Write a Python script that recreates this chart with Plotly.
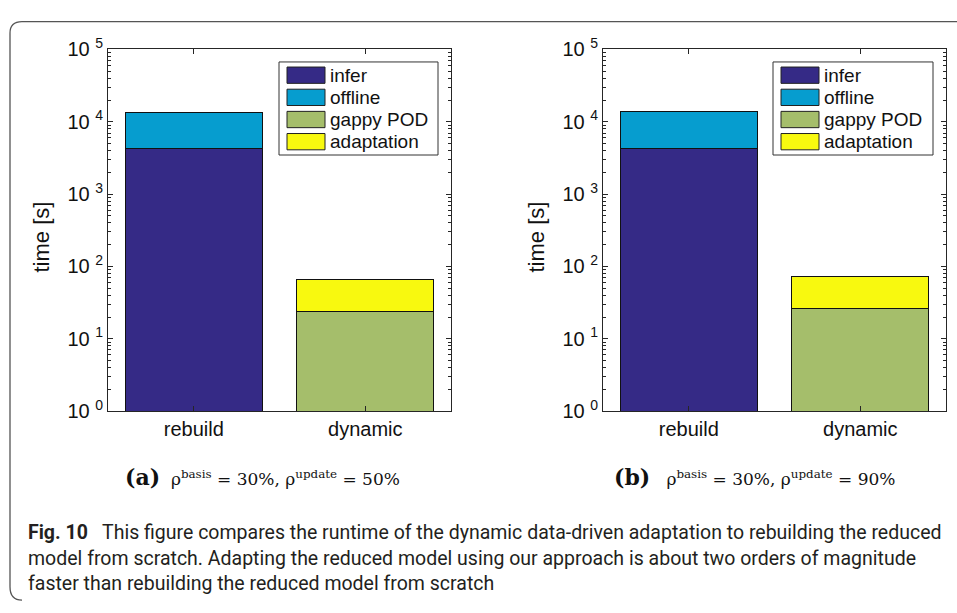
import plotly.graph_objects as go

W, H = 957, 613

categories = ["rebuild", "dynamic"]
series_names = ["infer", "offline", "gappy POD", "adaptation"]
series_colors = ["#352a86", "#069dcf", "#a5be6b", "#f8f90f"]

# panel (a): rho_update = 50%
a_infer = [4300, 0]
a_offline = [9000, 0]
a_gappy = [0, 23.5]
a_adapt = [0, 42.0]

# panel (b): rho_update = 90%
b_infer = [4300, 0]
b_offline = [9400, 0]
b_gappy = [0, 26.0]
b_adapt = [0, 47.0]

y_tickvals = [1, 10, 100, 1000, 10000, 100000]
y_ticktext = ["10\u00a0<sup>0</sup>", "10\u00a0<sup>1</sup>", "10\u00a0<sup>2</sup>",
              "10\u00a0<sup>3</sup>", "10\u00a0<sup>4</sup>", "10\u00a0<sup>5</sup>"]
minor_vals = [m * 10 ** k for k in range(0, 5) for m in range(2, 10)]

caption_a = ("<span style='font-size:22px'><b>(a)</b></span>\u00a0 ρ<sup>basis</sup> = 30%, "
             "ρ<sup>update</sup> = 50%")
caption_b = ("<span style='font-size:22px'><b>(b)</b></span>\u00a0\u00a0 ρ<sup>basis</sup> = 30%, "
             "ρ<sup>update</sup> = 90%")
fig_caption = [
    "<b>Fig. 10</b>\u00a0\u00a0 This figure compares the runtime of the dynamic data-driven adaptation to rebuilding the reduced",
    "model from scratch. Adapting the reduced model using our approach is about two orders of magnitude",
    "faster than rebuilding the reduced model from scratch",
]
y_title = "time [s]"


def px(x):
    return x / W


def py(y):
    return 1 - y / H


AX = "#262626"
FONT = "Liberation Sans"

fig = go.Figure()

panels = [
    ("x", "y", [a_infer, a_offline, a_gappy, a_adapt]),
    ("x2", "y2", [b_infer, b_offline, b_gappy, b_adapt]),
]
for xa, ya, data in panels:
    for name, color, vals in zip(series_names, series_colors, data):
        fig.add_trace(go.Bar(
            x=categories, y=vals, name=name, xaxis=xa, yaxis=ya,
            marker=dict(color=color, line=dict(color="#111111", width=1)),
            width=0.8, showlegend=False,
        ))

plot_areas = [(108, 451), (603, 946)]
top, bottom = 37, 414

common_x = dict(type="category", range=[-0.5, 1.5], showline=True, linecolor=AX, linewidth=1,
                mirror="ticks", ticks="inside", ticklen=5, tickcolor=AX,
                tickfont=dict(family=FONT, size=20, color="#111111"), showgrid=False,
                zeroline=False, fixedrange=True)
common_y = dict(type="log", range=[0, 5], showline=True, linecolor=AX, linewidth=1,
                mirror="ticks", ticks="inside", ticklen=5, tickcolor=AX,
                tickvals=y_tickvals, ticktext=y_ticktext,
                tickfont=dict(family=FONT, size=20, color="#111111"),
                minor=dict(ticks="inside", ticklen=3, tickcolor=AX, tickvals=minor_vals, showgrid=False),
                showgrid=False, zeroline=False)

fig.update_layout(
    width=W, height=H, margin=dict(l=0, r=0, t=0, b=0),
    paper_bgcolor="white", plot_bgcolor="white",
    barmode="stack", showlegend=False,
    xaxis=dict(common_x, domain=[px(plot_areas[0][0]), px(plot_areas[0][1])], anchor="y"),
    yaxis=dict(common_y, domain=[py(bottom), py(top)], anchor="x"),
    xaxis2=dict(common_x, domain=[px(plot_areas[1][0]), px(plot_areas[1][1])], anchor="y2"),
    yaxis2=dict(common_y, domain=[py(bottom), py(top)], anchor="x2"),
)

shapes = []
annotations = []

# y-axis titles
for tx in (41, 536):
    annotations.append(dict(xref="paper", yref="paper", x=px(tx), y=py(233), text=y_title,
                            textangle=-90, showarrow=False, xanchor="center", yanchor="middle",
                            font=dict(family=FONT, size=22, color="#111111")))

# custom legends (MATLAB-style wide swatches)
legend_boxes = [(279, 438), (773, 933)]
for (lx0, lx1) in legend_boxes:
    shapes.append(dict(type="rect", xref="paper", yref="paper",
                       x0=px(lx0), x1=px(lx1), y0=py(147), y1=py(50),
                       line=dict(color="#333333", width=1), fillcolor="white", layer="above"))
    for i, (name, color) in enumerate(zip(series_names, series_colors)):
        yt = 55.3 + i * 23.1
        shapes.append(dict(type="rect", xref="paper", yref="paper",
                           x0=px(lx0 + 8), x1=px(lx0 + 46), y0=py(yt + 17), y1=py(yt),
                           line=dict(color="#222222", width=1), fillcolor=color, layer="above"))
        annotations.append(dict(xref="paper", yref="paper", x=px(lx0 + 49), y=py(yt + 8.5),
                                text=name, showarrow=False, xanchor="left", yanchor="middle",
                                font=dict(family=FONT, size=19, color="#111111")))

# sub captions
SERIF = "DejaVu Serif"
for cx, txt in [(262, caption_a), (754, caption_b)]:
    annotations.append(dict(xref="paper", yref="paper", x=px(cx), y=py(483), text=txt,
                            showarrow=False, xanchor="center", yanchor="middle",
                            font=dict(family=SERIF, size=17, color="#111111")))

# figure caption
CAP = "Roboto"
for i, line in enumerate(fig_caption):
    annotations.append(dict(xref="paper", yref="paper", x=px(26), y=py(541 + i * 26.5), text=line,
                            showarrow=False, xanchor="left", yanchor="middle",
                            font=dict(family=CAP, size=19.5, color="#231f20")))

# outer rounded frame
r = 12
path = (f"M {px(10)},{py(597)} Q {px(10)},{py(611)} {px(10 + r)},{py(611)} "
        f"M {px(10)},{py(597)} L {px(10)},{py(8 + r)} Q {px(10)},{py(8)} {px(10 + r)},{py(8)} "
        f"L {px(1000)},{py(8)}")
shapes.append(dict(type="path", xref="paper", yref="paper", path=path,
                   line=dict(color="#555555", width=1.3)))

fig.update_layout(shapes=shapes, annotations=annotations)
fig.write_html("out.html")
